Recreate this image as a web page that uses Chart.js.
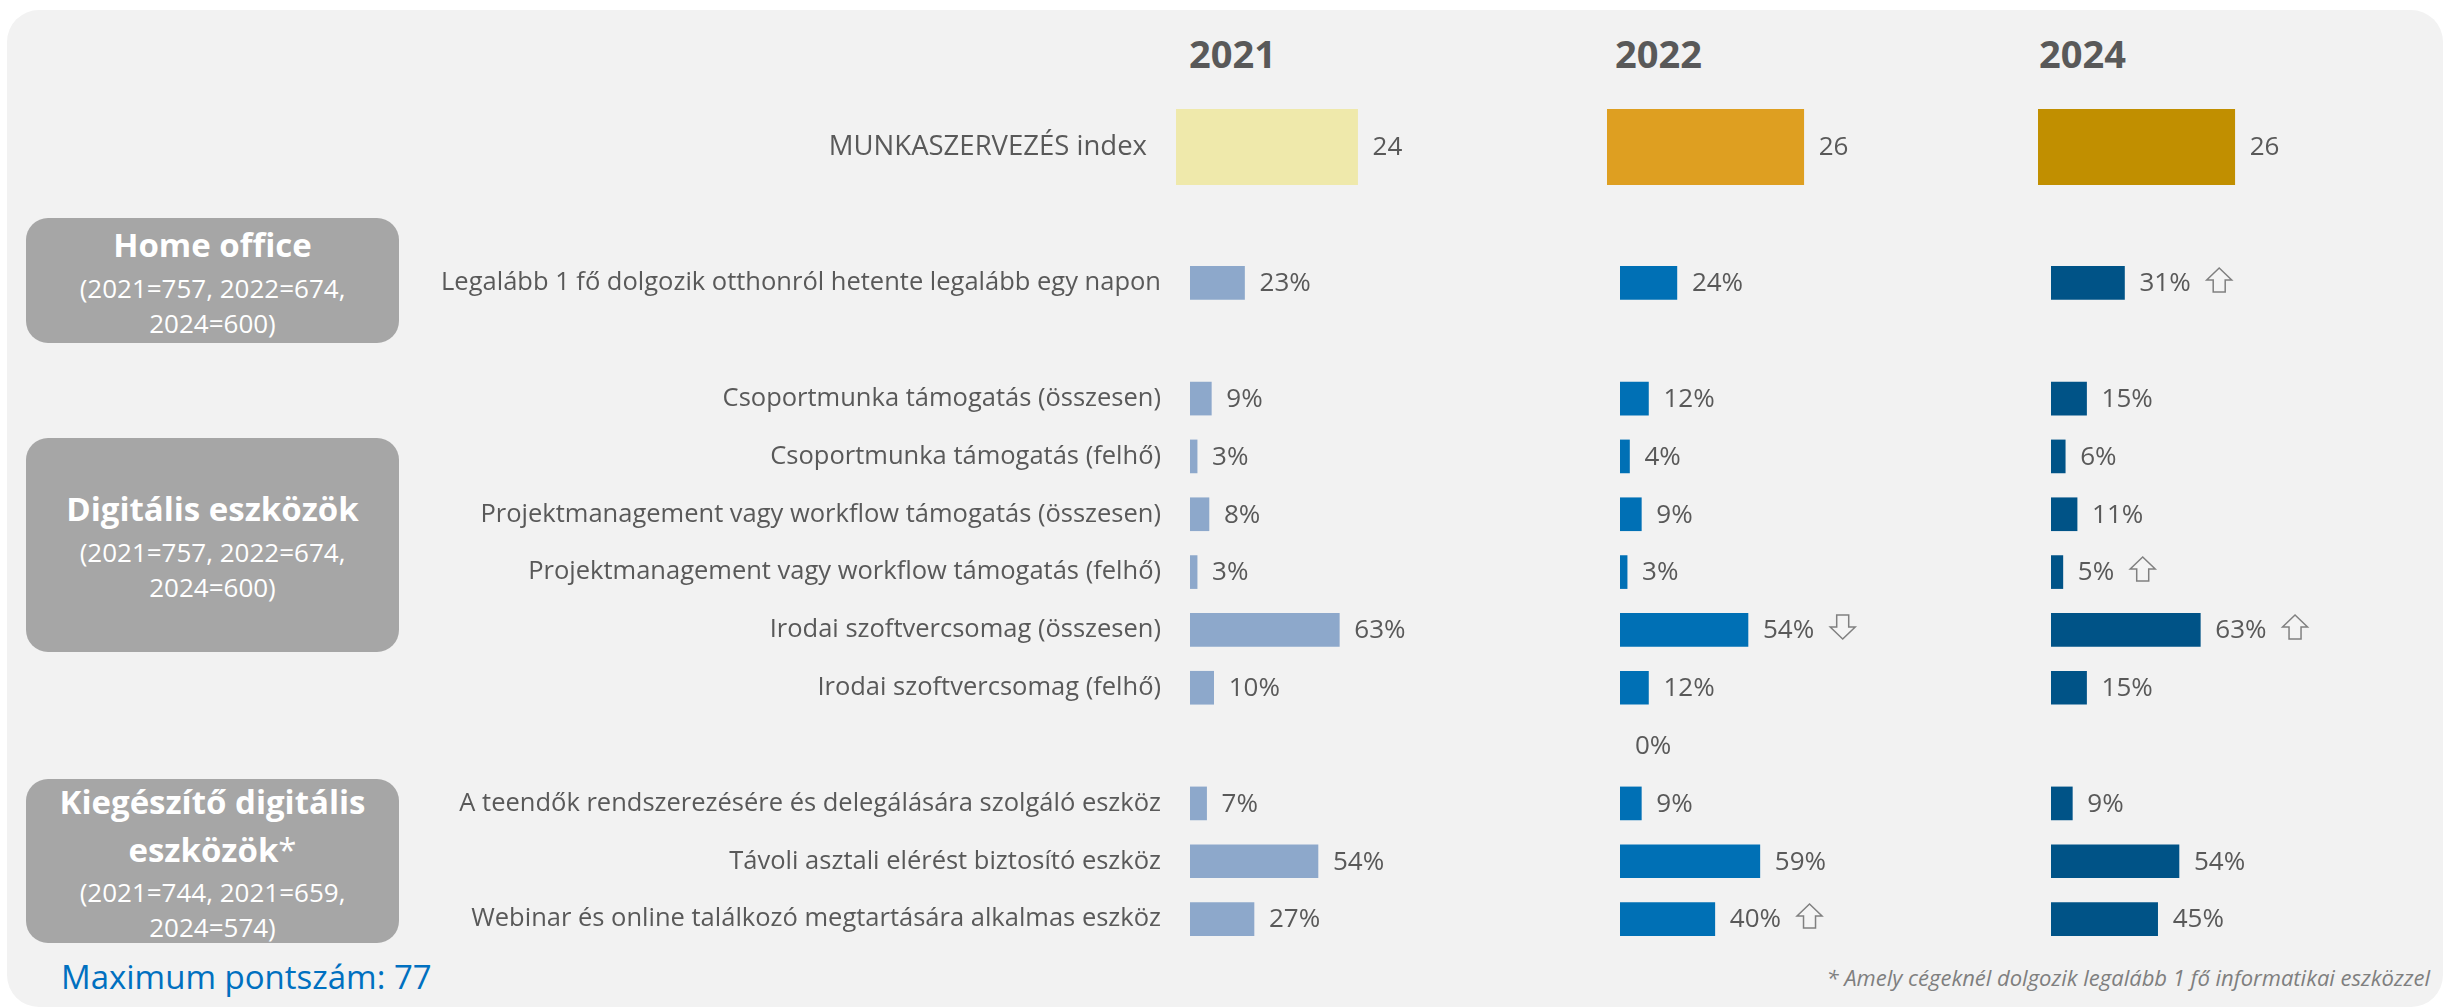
<!DOCTYPE html>
<html lang="hu">
<head>
<meta charset="utf-8">
<title>MUNKASZERVEZÉS index</title>
<script src="https://cdn.jsdelivr.net/npm/chart.js"></script>
<style>
  html, body { margin:0; padding:0; background:#fff; }
  body { width:2446px; height:1008px; position:relative; overflow:hidden; font-family:'Open Sans', sans-serif; color:#595959; }
  #panel { position:absolute; left:7px; top:10px; width:2436px; height:997px; background:#f2f2f2; border-radius:32px; }
  .year { position:absolute; top:28px; font-weight:700; font-size:38px; line-height:50px; color:#595959; }
  .box { position:absolute; left:26px; width:373px; background:#a6a6a6; border-radius:22px; }
  .ln { position:absolute; left:0; right:0; text-align:center; color:#fff; white-space:nowrap; }
  .ln.t { font-weight:700; font-size:33px; line-height:44px; }
  .ln.s { font-size:26px; line-height:36px; }
  .wrap { position:absolute; }
  #maxp { position:absolute; left:61px; top:956px; font-size:33px; line-height:42px; color:#0070c0; }
  #note { position:absolute; right:16px; top:961px; font-size:22px; line-height:32px; font-style:italic; color:#7f7f7f; }
</style>
</head>
<body>
<div id="panel"></div>

<div class="year" style="left:1189px">2021</div>
<div class="year" style="left:1615px">2022</div>
<div class="year" style="left:2039px">2024</div>

<div class="box" style="top:218px;height:125px">
  <div class="ln t" style="top:5px">Home office</div>
  <div class="ln s" style="top:52px">(2021=757, 2022=674,</div>
  <div class="ln s" style="top:87px">2024=600)</div>
</div>
<div class="box" style="top:438px;height:214px">
  <div class="ln t" style="top:49px">Digitális eszközök</div>
  <div class="ln s" style="top:96px">(2021=757, 2022=674,</div>
  <div class="ln s" style="top:131px">2024=600)</div>
</div>
<div class="box" style="top:779px;height:164px">
  <div class="ln t" style="top:1px">Kiegészítő digitális</div>
  <div class="ln t" style="top:49px">eszközök<span style="font-weight:400">*</span></div>
  <div class="ln s" style="top:95px">(2021=744, 2021=659,</div>
  <div class="ln s" style="top:130px">2024=574)</div>
</div>

<div id="maxp">Maximum pontszám: 77</div>
<div id="note">* Amely cégeknél dolgozik legalább 1 fő informatikai eszközzel</div>

<div class="wrap" style="left:376px;top:109px;width:1117px;height:76px"><canvas id="idx21"></canvas></div>
<div class="wrap" style="left:1607px;top:109px;width:317px;height:76px"><canvas id="idx22"></canvas></div>
<div class="wrap" style="left:2038px;top:109px;width:317px;height:76px"><canvas id="idx24"></canvas></div>

<div class="wrap" style="left:390px;top:254px;width:1167px;height:694px"><canvas id="p21"></canvas></div>
<div class="wrap" style="left:1620px;top:254px;width:367px;height:694px"><canvas id="p22"></canvas></div>
<div class="wrap" style="left:2051px;top:254px;width:367px;height:694px"><canvas id="p24"></canvas></div>

<script>
/* index row */
const idxLabels = ['MUNKASZERVEZÉS index'];
const idx2021 = [24];
const idx2022 = [26];
const idx2024 = [26];

/* item rows ('' = spacer row) */
const rowLabels = [
  'Legalább 1 fő dolgozik otthonról hetente legalább egy napon',
  '',
  'Csoportmunka támogatás (összesen)',
  'Csoportmunka támogatás (felhő)',
  'Projektmanagement vagy workflow támogatás (összesen)',
  'Projektmanagement vagy workflow támogatás (felhő)',
  'Irodai szoftvercsomag (összesen)',
  'Irodai szoftvercsomag (felhő)',
  '',
  'A teendők rendszerezésére és delegálására szolgáló eszköz',
  'Távoli asztali elérést biztosító eszköz',
  'Webinar és online találkozó megtartására alkalmas eszköz'
];
const pct2021 = [23, null, 9, 3, 8, 3, 63, 10, null, 7, 54, 27];
const pct2022 = [24, null, 12, 4, 9, 3, 54, 12, 0, 9, 59, 40];
const pct2024 = [31, null, 15, 6, 11, 5, 63, 15, null, 9, 54, 45];

/* significant change vs previous wave: 1 up, -1 down */
const trend2021 = [0, 0, 0, 0, 0, 0, 0, 0, 0, 0, 0, 0];
const trend2022 = [0, 0, 0, 0, 0, 0, -1, 0, 0, 0, 0, 1];
const trend2024 = [1, 0, 0, 0, 0, 1, 1, 0, 0, 0, 0, 0];

Chart.defaults.font.family = "'Open Sans', sans-serif";
Chart.defaults.color = '#595959';

function drawArrow(ctx, x0, yc, dir){
  // outlined block arrow, 25 wide x 24 tall
  const h = 12 * dir;
  ctx.save();
  ctx.beginPath();
  ctx.moveTo(x0 + 12.5, yc - h);
  ctx.lineTo(x0 + 25, yc);
  ctx.lineTo(x0 + 18.5, yc);
  ctx.lineTo(x0 + 18.5, yc + h);
  ctx.lineTo(x0 + 6.5, yc + h);
  ctx.lineTo(x0 + 6.5, yc);
  ctx.lineTo(x0, yc);
  ctx.closePath();
  ctx.fillStyle = '#f4f4f4';
  ctx.fill();
  ctx.lineWidth = 1.5;
  ctx.strokeStyle = '#808080';
  ctx.stroke();
  ctx.restore();
}

/* value label after each bar (+ trend arrow) */
const valueLabels = {
  id: 'valueLabels',
  afterDatasetsDraw(chart){
    const ctx = chart.ctx;
    const ds = chart.data.datasets[0];
    const meta = chart.getDatasetMeta(0);
    ctx.save();
    ctx.font = "26px 'Open Sans', sans-serif";
    ctx.textAlign = 'left';
    ctx.textBaseline = 'middle';
    meta.data.forEach((bar, i) => {
      const v = ds.data[i];
      if (v == null) return;
      const txt = v + (ds.suffix || '');
      const x = bar.x + 15;
      ctx.fillStyle = '#595959';
      ctx.fillText(txt, x, bar.y + 1);
      const t = ds.trend ? ds.trend[i] : 0;
      if (t) drawArrow(ctx, x + ctx.measureText(txt).width + 16, bar.y - 3, t);
    });
    ctx.restore();
  }
};

function yScale(show, size){
  return {
    display: show,
    grid: { display: false, drawTicks: false },
    border: { display: false },
    ticks: { padding: 29, color: '#595959', font: { size: size }, autoSkip: false },
    afterFit: s => {
      s.width = show ? 800 : 0;
      s.paddingTop = 0;
      s.paddingBottom = 0;
    }
  };
}

function pctChart(id, values, trend, color, showLabels){
  return new Chart(document.getElementById(id), {
    type: 'bar',
    data: {
      labels: rowLabels,
      datasets: [{
        data: values,
        backgroundColor: c => (c.raw === 0 ? 'rgba(0,0,0,0)' : color),
        barThickness: 33,
        trend: trend,
        suffix: '%'
      }]
    },
    options: {
      indexAxis: 'y',
      responsive: true,
      maintainAspectRatio: false,
      animation: false,
      layout: { padding: { left: 0, right: 130, top: 0, bottom: 0 } },
      plugins: { legend: { display: false }, tooltip: { enabled: false } },
      scales: {
        x: { display: false, min: 0, max: 100 },
        y: yScale(showLabels, 25.5)
      }
    },
    plugins: [valueLabels]
  });
}

function idxChart(id, values, color, showLabels){
  return new Chart(document.getElementById(id), {
    type: 'bar',
    data: {
      labels: idxLabels,
      datasets: [{ data: values, backgroundColor: color, barPercentage: 1, categoryPercentage: 1 }]
    },
    options: {
      indexAxis: 'y',
      responsive: true,
      maintainAspectRatio: false,
      animation: false,
      layout: { padding: { left: 0, right: 90, top: 0, bottom: 0 } },
      plugins: { legend: { display: false }, tooltip: { enabled: false } },
      scales: {
        x: { display: false, min: 0, max: 30 },
        y: yScale(showLabels, 27.5)
      }
    },
    plugins: [valueLabels]
  });
}

idxChart('idx21', idx2021, '#efe9ab', true);
idxChart('idx22', idx2022, '#de9f21', false);
idxChart('idx24', idx2024, '#c18f00', false);

pctChart('p21', pct2021, trend2021, '#8da8cb', true);
pctChart('p22', pct2022, trend2022, '#0070b5', false);
pctChart('p24', pct2024, trend2024, '#005387', false);
</script>
</body>
</html>
